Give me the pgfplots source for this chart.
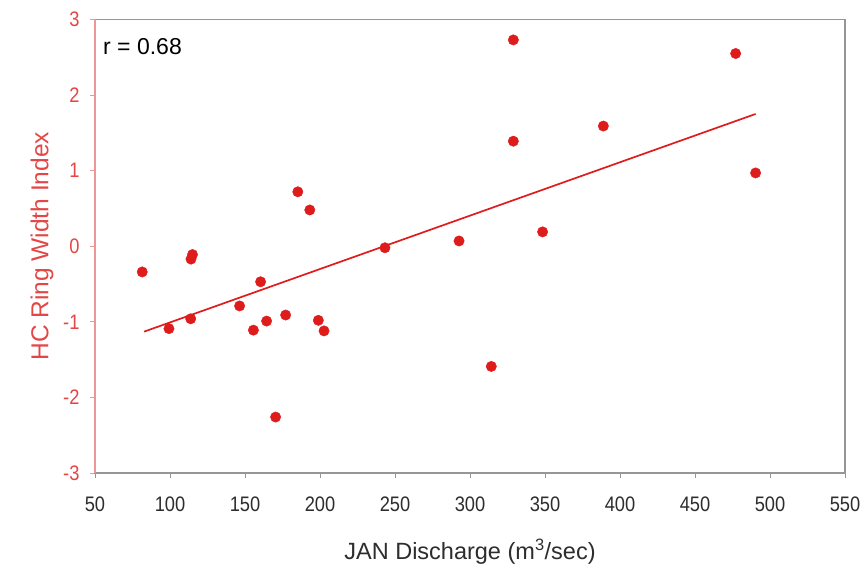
\documentclass[border=0pt]{standalone}
\usepackage{fontspec}
\setmainfont{Liberation Sans}
\newfontfamily\tickfont{Liberation Sans}[FakeStretch=0.87]
\usepackage{pgfplots}
\pgfplotsset{compat=1.18}
\definecolor{ptred}{RGB}{222,28,28}
\definecolor{labred}{RGB}{228,70,70}
\definecolor{axred}{RGB}{238,150,150}
\definecolor{axgray}{RGB}{150,150,150}
\definecolor{txtgray}{RGB}{45,45,45}
\begin{document}
\begin{tikzpicture}
\begin{axis}[
  name=ax,
  scale only axis,
  width=750pt, height=453.5pt,
  xmin=50, xmax=550, ymin=-3, ymax=3,
  xtick distance=50, ytick distance=1,
  xtick pos=bottom, ytick pos=left,
  tick align=outside,
  major tick length=5pt,
  axis line style={axgray, line width=1.6pt},
  x tick style={axgray, line width=0.8pt},
  y tick style={axred, line width=0.8pt},
  /pgf/number format/assume math mode=true,
  xticklabel style={font=\tickfont\fontsize{21}{22}\selectfont, text=txtgray},
  yticklabel style={font=\tickfont\fontsize{21}{22}\selectfont, text=labred},
  xticklabel shift=15pt,
  yticklabel shift=7pt,
  every axis x label/.style={at={(axis description cs:0.5,-0.1742)}, anchor=center, font=\fontsize{23.5}{26}\selectfont, text=txtgray},
  every axis y label/.style={at={(axis description cs:-0.0707,0.5)}, rotate=90, anchor=center, font=\fontsize{24.5}{26}\selectfont, text=labred},
  xlabel={JAN Discharge (m\textsuperscript{3}/sec)},
  ylabel={HC Ring Width Index},
  clip=false,
]
\addplot[only marks, mark=*, mark size=5.2pt, ptred, mark options={draw=ptred, fill=ptred}] coordinates {
(81.5,-0.34)
(99.3,-1.09)
(113.8,-0.96)
(114,-0.17)
(115,-0.11)
(146.4,-0.79)
(155.6,-1.11)
(160.4,-0.47)
(164.4,-0.99)
(170.4,-2.26)
(177.1,-0.91)
(185.2,0.72)
(193.2,0.48)
(198.9,-0.98)
(202.7,-1.12)
(243.3,-0.02)
(292.7,0.07)
(314.2,-1.59)
(328.9,2.73)
(328.9,1.39)
(348.4,0.19)
(388.9,1.59)
(477.1,2.55)
(490.4,0.97)
};
\addplot[ptred, line width=1.7pt] coordinates {(82.7,-1.13) (490.4,1.75)};
\draw[axred, line width=1.4pt] (rel axis cs:0,0) -- (rel axis cs:0,1);
\node[anchor=west, inner sep=0pt, xshift=8pt, yshift=-27.5pt, font=\fontsize{23}{26}\selectfont, text=black] at (rel axis cs:0,1) {r = 0.68};
\end{axis}
\pgfresetboundingbox
\path[use as bounding box] ([xshift=-95pt,yshift=-98pt]ax.south west) rectangle ([xshift=22pt,yshift=19.5pt]ax.north east);
\end{tikzpicture}
\end{document}
